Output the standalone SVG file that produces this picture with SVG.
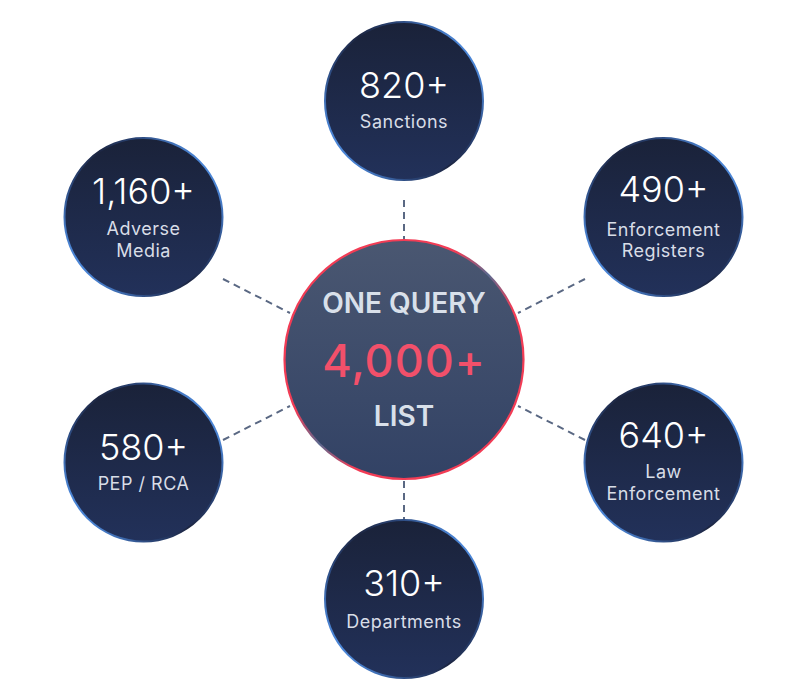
<svg xmlns="http://www.w3.org/2000/svg" width="808" height="680" viewBox="0 0 808 680">
  <defs>
    <linearGradient id="nodeFill" x1="0" y1="0" x2="0" y2="1">
      <stop offset="0" stop-color="#1a2239"/>
      <stop offset="1" stop-color="#22315a"/>
    </linearGradient>
    <linearGradient id="nodeStroke" x1="1" y1="0.15" x2="0" y2="0.85">
      <stop offset="0" stop-color="#5aa2ff"/>
      <stop offset="0.3" stop-color="#2a4476"/>
      <stop offset="0.5" stop-color="#1c2541"/>
      <stop offset="0.7" stop-color="#2a4476"/>
      <stop offset="1" stop-color="#5aa2ff"/>
    </linearGradient>
    <linearGradient id="hubFill" x1="0" y1="0" x2="0" y2="1">
      <stop offset="0" stop-color="#4a5771"/>
      <stop offset="1" stop-color="#324265"/>
    </linearGradient>
    <linearGradient id="hubStroke" x1="0" y1="0" x2="1" y2="1">
      <stop offset="0" stop-color="#f23c55"/>
      <stop offset="0.38" stop-color="#f23c55"/>
      <stop offset="0.5" stop-color="#5b6a90"/>
      <stop offset="0.62" stop-color="#f23c55"/>
      <stop offset="1" stop-color="#f23c55"/>
    </linearGradient>
  </defs>
  <style>
    .node circle { fill: url(#nodeFill); stroke: url(#nodeStroke); stroke-width: 2; }
    .num { font-family: Inter, "Liberation Sans", sans-serif; font-size: 36px; font-weight: 300; fill: #ffffff; text-anchor: middle; }
    .lbl { font-family: Inter, "Liberation Sans", sans-serif; font-size: 18px; font-weight: 400; fill: #d8dde7; text-anchor: middle; letter-spacing: 0.5px; }
    .conn line { stroke: #5a6883; stroke-width: 2; stroke-dasharray: 7 5; }
    .hubtxt { font-family: Inter, "Liberation Sans", sans-serif; font-size: 28px; font-weight: 600; fill: #d9e0ea; text-anchor: middle; }
    .hubnum { font-family: Inter, "Liberation Sans", sans-serif; font-size: 45px; font-weight: 500; fill: #f2506a; text-anchor: middle; letter-spacing: 1px; }
  </style>
  <rect width="808" height="680" fill="#ffffff"/>

  <g id="connectors" class="conn">
    <line x1="404" y1="200" x2="404" y2="239"/>
    <line x1="404" y1="481" x2="404" y2="520"/>
    <line x1="223" y1="279" x2="290" y2="313"/>
    <line x1="585" y1="279" x2="518" y2="313"/>
    <line x1="223" y1="440" x2="290" y2="406"/>
    <line x1="585" y1="440" x2="518" y2="406"/>
  </g>

  <g id="hub">
    <circle cx="404" cy="359.5" r="119.5" fill="url(#hubFill)" stroke="url(#hubStroke)" stroke-width="2.2"/>
    <text class="hubtxt" x="404" y="313">ONE QUERY</text>
    <text class="hubnum" x="404" y="377">4,000+</text>
    <text class="hubtxt" x="404" y="426">LIST</text>
  </g>

  <g id="sanctions" class="node">
    <circle cx="404" cy="101" r="79"/>
    <text class="num" x="404" y="98">820+</text>
    <text class="lbl" x="404" y="128">Sanctions</text>
  </g>

  <g id="adverse-media" class="node">
    <circle cx="143.5" cy="217" r="79"/>
    <text class="num" x="143.5" y="204">1,160+</text>
    <text class="lbl" x="143.5" y="235">Adverse</text>
    <text class="lbl" x="143.5" y="257">Media</text>
  </g>

  <g id="enforcement-registers" class="node">
    <circle cx="663.5" cy="217" r="79"/>
    <text class="num" x="663.5" y="202">490+</text>
    <text class="lbl" x="663.5" y="236">Enforcement</text>
    <text class="lbl" x="663.5" y="257">Registers</text>
  </g>

  <g id="pep-rca" class="node">
    <circle cx="143.5" cy="462.5" r="79"/>
    <text class="num" x="143.5" y="460">580+</text>
    <text class="lbl" x="143.5" y="490">PEP / RCA</text>
  </g>

  <g id="law-enforcement" class="node">
    <circle cx="663.5" cy="462.5" r="79"/>
    <text class="num" x="663.5" y="448">640+</text>
    <text class="lbl" x="663.5" y="478">Law</text>
    <text class="lbl" x="663.5" y="500">Enforcement</text>
  </g>

  <g id="departments" class="node">
    <circle cx="404" cy="599" r="79"/>
    <text class="num" x="404" y="596">310+</text>
    <text class="lbl" x="404" y="628">Departments</text>
  </g>
</svg>
